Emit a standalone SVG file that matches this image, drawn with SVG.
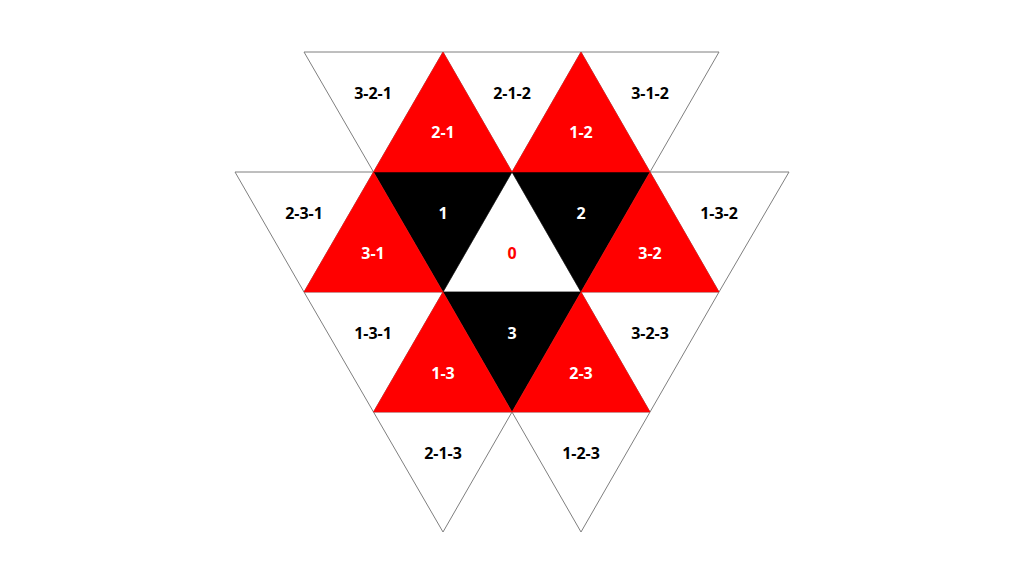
<svg xmlns="http://www.w3.org/2000/svg" width="1024" height="576" viewBox="0 0 1024 576">
<style>
.w{fill:#fff;stroke:#7f7f7f;stroke-width:1}
.r{fill:#ff0000;stroke:#ff0000;stroke-width:0.5}
.k{fill:#000;stroke:#000;stroke-width:0.5}
.c{fill:#fff;stroke:#7f7f7f;stroke-width:0.8}
text{font-family:"Open Sans","Liberation Sans",sans-serif;font-weight:bold;font-size:16px;text-anchor:middle;dominant-baseline:central}
.tb{fill:#000}.tw{fill:#fff}.tr{fill:#ff0000}
</style>
<rect width="1024" height="576" fill="#fff"/>
<g id="n-3-2-1"><polygon class="w" points="304,52 443,52 373.5,172"/><text class="tb" x="373" y="93">3-2-1</text></g>
<g id="n-2-1-2"><polygon class="w" points="443,52 581,52 512,172"/><text class="tb" x="512" y="93">2-1-2</text></g>
<g id="n-3-1-2"><polygon class="w" points="581,52 719,52 650,172"/><text class="tb" x="650" y="93">3-1-2</text></g>
<g id="n-2-3-1"><polygon class="w" points="235,172 373.5,172 304,292"/><text class="tb" x="304" y="213">2-3-1</text></g>
<g id="n-1-3-2"><polygon class="w" points="650,172 789,172 719,292"/><text class="tb" x="719" y="213">1-3-2</text></g>
<g id="n-1-3-1"><polygon class="w" points="304,292 443,292 373.5,412"/><text class="tb" x="373" y="333">1-3-1</text></g>
<g id="n-3-2-3"><polygon class="w" points="581,292 719,292 650,412"/><text class="tb" x="650" y="333">3-2-3</text></g>
<g id="n-2-1-3"><polygon class="w" points="373.5,412 512,412 443,532"/><text class="tb" x="443" y="453">2-1-3</text></g>
<g id="n-1-2-3"><polygon class="w" points="512,412 650,412 581,532"/><text class="tb" x="581" y="453">1-2-3</text></g>
<g id="n-0"><polygon class="c" points="512,172 443,292 581,292"/><text class="tr" x="512" y="253">0</text></g>
<g id="n-1"><polygon class="k" points="373.5,172 512,172 443,292"/><text class="tw" x="443" y="213">1</text></g>
<g id="n-2"><polygon class="k" points="512,172 650,172 581,292"/><text class="tw" x="581" y="213">2</text></g>
<g id="n-3"><polygon class="k" points="443,292 581,292 512,412"/><text class="tw" x="512" y="333">3</text></g>
<g id="n-2-1"><polygon class="r" points="443,52 373.5,172 512,172"/><text class="tw" x="443" y="132">2-1</text></g>
<g id="n-1-2"><polygon class="r" points="581,52 512,172 650,172"/><text class="tw" x="581" y="132">1-2</text></g>
<g id="n-3-1"><polygon class="r" points="373.5,172 304,292 443,292"/><text class="tw" x="373" y="253">3-1</text></g>
<g id="n-3-2"><polygon class="r" points="650,172 581,292 719,292"/><text class="tw" x="650" y="253">3-2</text></g>
<g id="n-1-3"><polygon class="r" points="443,292 373.5,412 512,412"/><text class="tw" x="443" y="373">1-3</text></g>
<g id="n-2-3"><polygon class="r" points="581,292 512,412 650,412"/><text class="tw" x="581" y="373">2-3</text></g>
<g id="connectors"></g>
</svg>
